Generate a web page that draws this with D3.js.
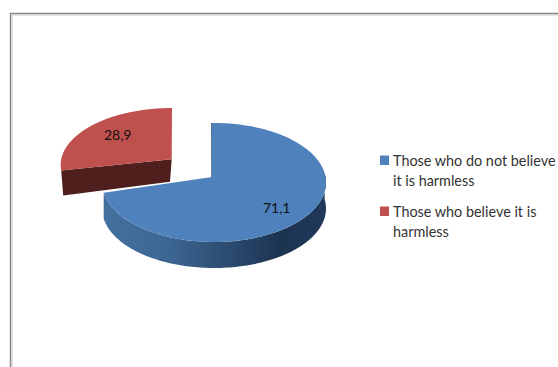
<!DOCTYPE html>
<html><head><meta charset="utf-8">
<script src="https://cdn.jsdelivr.net/npm/d3@7"></script>
<style>html,body{margin:0;padding:0;background:#fff}svg{display:block}text{font-family:Lato,"Open Sans",sans-serif;fill:#111}</style>
</head><body><div id="c"></div>
<script>
const categories = ["Those who do not believe it is harmless", "Those who believe it is harmless"];
const values = [71.1, 28.9];
const valueLabels = ["71,1", "28,9"];
const colors = ["#4f81bd", "#c0504d"];

const W = 558, H = 367;
const svg = d3.select("#c").append("svg").attr("width", W).attr("height", H);
const defs = svg.append("defs");
const g = defs.append("linearGradient").attr("id", "wall").attr("gradientUnits", "userSpaceOnUse")
  .attr("x1", 103).attr("x2", 326).attr("y1", 0).attr("y2", 0);
[[0, "#44709f"], [0.3, "#3c6592"], [0.62, "#284669"], [0.8, "#1c3350"], [1, "#20395a"]]
  .forEach(s => g.append("stop").attr("offset", s[0]).attr("stop-color", s[1]));

// frame
svg.append("path").attr("d", `M10.5 ${H}V13.5H${W}`).attr("fill", "none").attr("stroke", "#868686").attr("stroke-width", 1.4);
svg.append("path").attr("d", `M12 ${H}V15H${W}`).attr("fill", "none").attr("stroke", "#c8c8c8").attr("stroke-width", 1);

const arcs = d3.pie().sort(null).value(d => d)(values);
const rad = d => d * Math.PI / 180;
// apparent sweep of each slice under the chart's perspective
const geom = [
  { apex: [212, 177], c: [214, 182.5], rx: 112, ry: 59.5, depth: 26, view: [rad(-1.1), rad(260)] },
  { apex: [171.7, 159.3], c: [172, 165], rx: 111.3, ry: 57, depth: 25, view: [rad(264.5), rad(360)] }
];
geom.forEach((gm, i) => { gm.warp = d3.scaleLinear().domain([arcs[i].startAngle, arcs[i].endAngle]).range(gm.view); });
const rim = (gm, t) => [gm.c[0] + gm.rx * Math.sin(t), gm.c[1] - gm.ry * Math.cos(t)];
const samples = (a, b) => d3.range(0, 121).map(i => a + (b - a) * i / 120);
const line = d3.line();

function drawSlice(i) {
  const gm = geom[i], a = arcs[i];
  const from = gm.warp(a.startAngle), to = gm.warp(a.endAngle);
  const pts = samples(from, to).map(t => rim(gm, t));
  if (i === 0) {
    const down = samples(Math.PI / 2 * 0.9, to).map(t => rim(gm, t));
    const poly = down.concat(down.slice().reverse().map(p => [p[0], p[1] + gm.depth]));
    svg.append("path").attr("d", line(poly) + "Z").attr("fill", "url(#wall)");
    svg.append("path").attr("d", line([gm.apex, rim(gm, from)])).attr("stroke", "#1f3a5c").attr("stroke-width", 1.2).attr("fill", "none");
  } else {
    const e = rim(gm, from);
    const face = [gm.apex, e, [e[0] + 2, e[1] + gm.depth], [gm.apex[0] - 1.7, gm.apex[1] + 22.4]];
    svg.append("path").attr("d", line(face) + "Z").attr("fill", "#4e1f1c");
  }
  svg.append("path").attr("d", line([gm.apex].concat(pts)) + "Z").attr("fill", colors[i]);
}
drawSlice(1);
drawSlice(0);

const labelPos = [[276.7, 213], [117.7, 140]];
valueLabels.forEach((t, i) => svg.append("text").attr("x", labelPos[i][0]).attr("y", labelPos[i][1])
  .attr("text-anchor", "middle").attr("font-size", 14).text(t));

// legend
const wrapped = [["Those who do not believe", "it is harmless"], ["Those who believe it is", "harmless"]];
const legY = [155.5, 206.5];
categories.forEach((c, i) => {
  svg.append("rect").attr("x", 380).attr("y", legY[i]).attr("width", 9).attr("height", 9.5).attr("fill", colors[i]);
  wrapped[i].forEach((t, j) => svg.append("text").attr("x", 393).attr("y", legY[i] + 10.5 + j * 20)
    .attr("font-size", 14.4).style("fill", "#333").text(t));
});
</script></body></html>
